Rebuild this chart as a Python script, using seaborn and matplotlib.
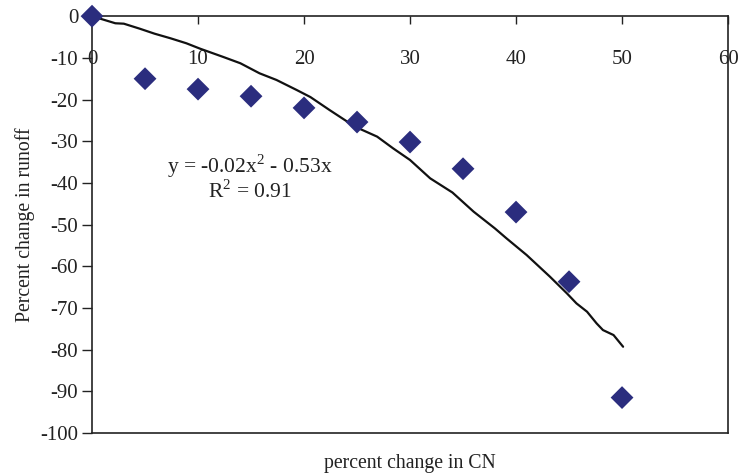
import numpy as np
import pandas as pd
import matplotlib
matplotlib.use("Agg")
import matplotlib.pyplot as plt
import seaborn as sns

# ============================================================
# DATA
# ============================================================
cn_change = [0, 5, 10, 15, 20, 25, 30, 35, 40, 45, 50]
runoff_change = [0, -15.0, -17.5, -19.2, -22.0, -25.4, -30.2, -36.6, -47.0, -63.7, -91.5]

# fitted trend line (slightly wobbly)
fit_x = [0, 2.2, 3.0, 4.5, 5.9, 7.4, 8.9, 10.2, 12.4, 14.0, 15.8, 17.4, 19.3, 20.6,
         22.4, 24.8, 26.9, 28.4, 30.0, 31.9, 34.0, 36.0, 38.0, 39.1, 41.0, 43.2,
         44.8, 45.7, 46.7, 47.6, 48.2, 49.2, 50.1]
fit_y = [0, -1.7, -1.8, -3.0, -4.2, -5.3, -6.5, -7.8, -9.8, -11.3, -13.7, -15.3, -17.7, -19.4,
         -22.5, -26.5, -28.9, -31.7, -34.5, -38.9, -42.3, -46.9, -50.9, -53.3, -57.3, -62.5,
         -66.5, -68.9, -70.9, -73.7, -75.3, -76.5, -79.3]

x_ticks = [0, 10, 20, 30, 40, 50, 60]
y_ticks = [0, -10, -20, -30, -40, -50, -60, -70, -80, -90, -100]

equation = "y = -0.02x$^2$ - 0.53x\nR$^2$ = 0.91"

# ============================================================
# PLOT
# ============================================================
sns.set_style("white")
plt.rcParams['font.family'] = ['Liberation Serif', 'DejaVu Serif']
plt.rcParams['mathtext.fontset'] = 'custom'
plt.rcParams['mathtext.rm'] = 'Liberation Serif'
plt.rcParams['axes.unicode_minus'] = False

fig = plt.figure(figsize=(7.38, 4.76), dpi=100)
ax = fig.add_axes([0.1247, 0.0903, 0.8618, 0.8757])

pts = pd.DataFrame({'cn': cn_change, 'runoff': runoff_change})
fit = pd.DataFrame({'cn': fit_x, 'runoff': fit_y})

sns.lineplot(data=fit, x='cn', y='runoff', sort=False, color='#111111', linewidth=1.6, ax=ax)
sns.scatterplot(data=pts, x='cn', y='runoff', marker='D', s=135, color='#2b2d7e',
                edgecolor='none', ax=ax, zorder=3, clip_on=False)

ax.set_xlim(0, 60)
ax.set_ylim(-100, 0)
ax.set_xticks(x_ticks)
ax.set_yticks(y_ticks)

for sp in ax.spines.values():
    sp.set_color('#222222')
    sp.set_linewidth(1.2)

ax.tick_params(axis='x', top=True, bottom=False, labeltop=True, labelbottom=False,
               direction='in', length=6, width=1, pad=-38, labelsize=15, colors='#222222')
ax.tick_params(axis='y', left=True, direction='out', length=7, width=1, pad=3,
               labelsize=15, colors='#222222')

ax.set_xlabel("percent change in CN", fontsize=14.2, color='#222222', labelpad=15)
ax.set_ylabel("Percent change in runoff", fontsize=14.2, color='#222222', labelpad=4)

ax.text(14.9, -38.7, equation, ha='center', va='center', multialignment='center',
        linespacing=1.0, fontsize=15.5, color='#222222')

plt.savefig("out.png", dpi=100)
